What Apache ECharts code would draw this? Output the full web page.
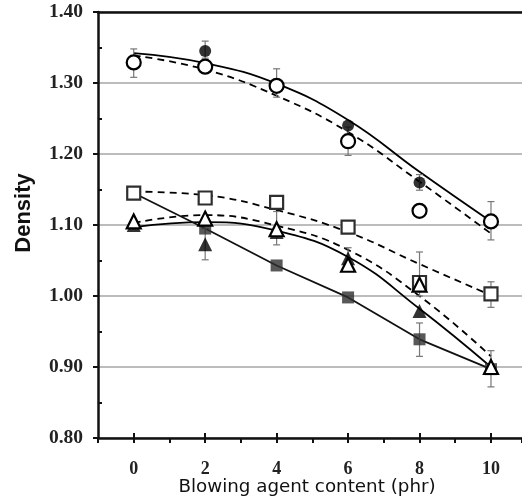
<!DOCTYPE html>
<html>
<head>
<meta charset="utf-8">
<script src="https://cdn.jsdelivr.net/npm/echarts@6/dist/echarts.min.js"></script>
<style>
  html, body { margin: 0; padding: 0; background: #fff; }
  #chart { width: 522px; height: 504px; }
</style>
</head>
<body>
<div id="chart"></div>
<script>
// blowing agent content (phr)
const content = [0, 2, 4, 6, 8, 10]

// measured densities
const filledCircle = [1.330, 1.345, 1.298, 1.240, 1.160, 1.105]
const openCircle = [1.329, 1.323, 1.296, 1.218, 1.120, 1.105]
const filledSquare = [1.145, 1.095, 1.043, 0.998, 0.939, 0.897]
const openSquare = [1.145, 1.138, 1.132, 1.097, 1.019, 1.003]
const filledTriangle = [1.100, 1.073, 1.090, 1.053, 0.979, 0.900]
const openTriangle = [1.105, 1.109, 1.094, 1.044, 1.016, 0.900]

// fitted curves at the same x
const fitFilledCircle = [1.342, 1.328, 1.299, 1.248, 1.175, 1.105]
const fitOpenCircle = [1.339, 1.319, 1.282, 1.231, 1.161, 1.088]
const fitOpenSquare = [1.147, 1.142, 1.121, 1.090, 1.045, 1.001]
const fitFilledTriangle = [1.097, 1.104, 1.092, 1.055, 0.982, 0.900]
const fitOpenTriangle = [1.103, 1.114, 1.099, 1.065, 1.000, 0.915]

// error bars
const errX = [0, 2, 4, 6, 8, 10, 2, 4, 6, 8, 8, 10, 10]
const errLow = [1.308, 1.335, 1.280, 1.198, 1.149, 1.079, 1.051, 1.072, 1.045, 1.000, 0.915, 0.984, 0.872]
const errHigh = [1.348, 1.359, 1.320, 1.238, 1.171, 1.133, 1.095, 1.119, 1.068, 1.062, 0.962, 1.020, 0.923]

const pairs = ys => content.map((x, i) => [x, ys[i]])

const chart = echarts.init(document.getElementById('chart'), null, { renderer: 'canvas' })

// the plot is cut off at the right edge of the picture, a bit before x = 11
const unit = 35.725
const xEnd = -1 + (522 - 98) / unit
const plotGrid = () => ({ left: 98, right: 0, top: 12, bottom: 66, outerBoundsMode: 'none', containLabel: false })

function fitLine(name, ys, dashed) {
  return {
    name: name,
    type: 'line',
    data: pairs(ys),
    smooth: 0.45,
    showSymbol: false,
    silent: true,
    z: 2,
    lineStyle: { color: '#000', width: 1.8, type: dashed ? [7, 5] : 'solid' }
  }
}

function marks(name, ys, symbol, size, filled, z) {
  return {
    name: name,
    type: 'scatter',
    data: pairs(ys),
    symbol: symbol,
    symbolSize: size,
    z: z,
    itemStyle: filled
      ? { color: symbol === 'rect' ? '#2e2e2e' : '#000', borderColor: '#000', borderWidth: 0 }
      : { color: '#fff', borderColor: symbol === 'rect' ? '#2e2e2e' : '#000', borderWidth: 2.2, opacity: 1 }
  }
}

chart.setOption({
  animation: false,
  grid: [
    plotGrid(),
    { left: 98 + unit, right: 522 - (98 + 11 * unit), top: 12, bottom: 66, outerBoundsMode: 'none', containLabel: false },
    plotGrid()
  ],
  xAxis: [
    {
      type: 'value', gridIndex: 0, min: -1, max: xEnd, interval: 1,
      axisLine: { show: true, onZero: false, lineStyle: { color: '#111', width: 2.5 } },
      axisTick: { show: true, length: 5, lineStyle: { color: '#111', width: 2 } },
      axisLabel: { show: false },
      splitLine: { show: false },
      name: 'Blowing agent content (phr)',
      nameLocation: 'middle',
      nameGap: 40,
      nameTextStyle: { fontFamily: 'DejaVu Sans', fontSize: 18.3, color: '#111', padding: [0, 6, 0, 0] }
    },
    {
      type: 'value', gridIndex: 1, min: 0, max: 10, interval: 2,
      axisLine: { show: false, onZero: false },
      axisTick: { show: true, inside: true, length: 5, lineStyle: { color: '#111', width: 2 } },
      axisLabel: { margin: 22, fontFamily: 'Liberation Serif', fontWeight: 'bold', fontSize: 18, color: '#222' },
      splitLine: { show: false }
    },
    {
      // top frame line
      type: 'value', gridIndex: 2, min: -1, max: xEnd, position: 'top',
      axisLine: { show: true, onZero: false, lineStyle: { color: '#111', width: 2.5 } },
      axisTick: { show: false },
      axisLabel: { show: false },
      splitLine: { show: false }
    }
  ],
  yAxis: [
    {
      type: 'value', gridIndex: 0, min: 0.8, max: 1.4, interval: 0.1, position: 'left',
      axisLine: { show: true, onZero: false, lineStyle: { color: '#111', width: 2.5 } },
      axisTick: { show: true, length: 5, lineStyle: { color: '#111', width: 2 } },
      axisLabel: {
        margin: 15, fontFamily: 'Liberation Serif', fontWeight: 'bold', fontSize: 19.5, color: '#222',
        formatter: v => v.toFixed(2)
      },
      splitLine: { show: true, lineStyle: { color: '#a6a6a6', width: 1.6 } },
      name: 'Density',
      nameLocation: 'middle',
      nameGap: 63,
      nameRotate: 90,
      nameTextStyle: { fontFamily: 'Liberation Sans', fontWeight: 'bold', fontSize: 22, color: '#111', padding: [0, 0, 0, 24] }
    },
    {
      type: 'value', gridIndex: 1, min: 0.8, max: 1.4, position: 'left', show: false,
      axisLine: { show: false, onZero: false }, axisTick: { show: false },
      axisLabel: { show: false }, splitLine: { show: false }
    },
    {
      // inner minor ticks
      type: 'value', gridIndex: 2, min: 0.8, max: 1.4, interval: 0.1, position: 'left',
      axisLine: { show: false, onZero: false },
      axisTick: { show: false, inside: true },
      minorTick: { show: true, splitNumber: 2, length: 4, lineStyle: { color: '#111', width: 2 } },
      axisLabel: { show: false },
      splitLine: { show: false }
    }
  ],
  series: [
    fitLine('fit filled circle', fitFilledCircle, false),
    fitLine('fit open circle', fitOpenCircle, true),
    fitLine('fit open square', fitOpenSquare, true),
    fitLine('fit filled triangle', fitFilledTriangle, false),
    fitLine('fit open triangle', fitOpenTriangle, true),
    {
      name: 'filled square line',
      type: 'line',
      data: pairs(filledSquare),
      showSymbol: false,
      z: 2,
      lineStyle: { color: '#111', width: 1.8 }
    },
    {
      name: 'error bars',
      type: 'custom',
      z: 3,
      data: errX.map((x, i) => [x, errLow[i], errHigh[i]]),
      renderItem: function (params, api) {
        const lo = api.coord([api.value(0), api.value(1)])
        const hi = api.coord([api.value(0), api.value(2)])
        const cap = 3.5
        const style = { stroke: '#777', lineWidth: 1.2 }
        return {
          type: 'group',
          children: [
            { type: 'line', shape: { x1: lo[0], y1: lo[1], x2: hi[0], y2: hi[1] }, style: style },
            { type: 'line', shape: { x1: lo[0] - cap, y1: lo[1], x2: lo[0] + cap, y2: lo[1] }, style: style },
            { type: 'line', shape: { x1: hi[0] - cap, y1: hi[1], x2: hi[0] + cap, y2: hi[1] }, style: style }
          ]
        }
      }
    },
    marks('filled circle', filledCircle, 'circle', 12, true, 4),
    marks('filled square', filledSquare, 'rect', 12, true, 4),
    marks('filled triangle', filledTriangle, 'triangle', 14, true, 4),
    marks('open circle', openCircle, 'circle', 14, false, 5),
    marks('open square', openSquare, 'rect', 13, false, 5),
    marks('open triangle', openTriangle, 'triangle', 14, false, 6)
  ]
})
</script>
</body>
</html>
